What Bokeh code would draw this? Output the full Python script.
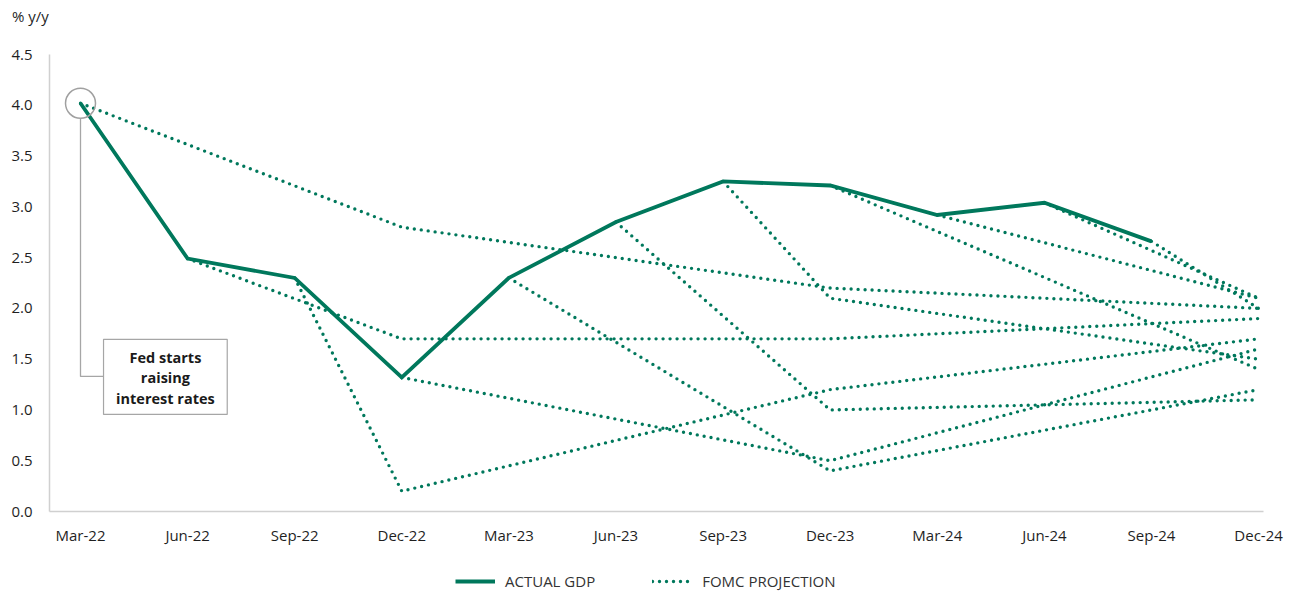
from bokeh.plotting import figure
from bokeh.layouts import column
from bokeh.models import Range1d, FixedTicker, PrintfTickFormatter, Legend, LegendItem, Div
from bokeh.core.properties import value
from bokeh.embed import file_html
from bokeh.resources import INLINE

# ---------------- data ----------------
quarters = ["Mar-22", "Jun-22", "Sep-22", "Dec-22", "Mar-23", "Jun-23",
            "Sep-23", "Dec-23", "Mar-24", "Jun-24", "Sep-24", "Dec-24"]
actual_gdp = [4.02, 2.49, 2.30, 1.32, 2.30, 2.85, 3.25, 3.21, 2.92, 3.04, 2.66]

# FOMC projections published each quarter (start = actual GDP that quarter)
proj_quarters = ["Mar-22", "Jun-22", "Sep-22", "Dec-22", "Mar-23", "Jun-23",
                 "Sep-23", "Dec-23", "Mar-24", "Jun-24", "Sep-24"]
proj_dec22 = [2.8, 1.7, 0.2, None, None, None, None, None, None, None, None]
proj_dec23 = [2.2, 1.7, 1.2, 0.5, 0.4, 1.0, 2.1, None, None, None, None]
proj_dec24 = [2.0, 1.9, 1.7, 1.6, 1.2, 1.1, 1.5, 1.4, 2.1, 2.1, 2.0]
year_ends = ["Dec-22", "Dec-23", "Dec-24"]

y_ticks = [0.0, 0.5, 1.0, 1.5, 2.0, 2.5, 3.0, 3.5, 4.0, 4.5]
legend_labels = ["ACTUAL GDP", "FOMC PROJECTION"]
unit_label = "% y/y"

GREEN = "#00785C"
FONT = "Open Sans"
DOT = "0 7"

# ---------------- build series ----------------
x_actual = list(range(len(actual_gdp)))
xs, ys = [], []
for i, q in enumerate(proj_quarters):
    sx = quarters.index(q)
    px, py = [sx], [actual_gdp[sx]]
    for ye, vals in zip(year_ends, [proj_dec22, proj_dec23, proj_dec24]):
        if vals[i] is not None:
            px.append(quarters.index(ye))
            py.append(vals[i])
    xs.append(px)
    ys.append(py)

# ---------------- header ----------------
hdr = Div(text=unit_label, width=1297, height=34, margin=0,
          styles={"font-family": "Open Sans", "font-size": "15px",
                  "color": "#1f1f1f", "padding-left": "12px",
                  "padding-top": "6px", "line-height": "20px"})

# ---------------- main figure ----------------
p = figure(width=1297, height=522, output_backend="svg", toolbar_location=None,
           title=None,
           x_range=Range1d(-0.2895, 11.046), y_range=Range1d(0, 4.5),
           min_border_left=49, min_border_right=34, min_border_top=20,
           min_border_bottom=45)
p.outline_line_color = None
p.grid.grid_line_color = None

p.multi_line(xs, ys, line_color=GREEN, line_width=3.4, line_dash=DOT,
             line_cap="round")
p.line(x_actual, actual_gdp, line_color=GREEN, line_width=3.8, line_join="miter")

# annotation
p.scatter([0], [actual_gdp[0]], size=30, fill_color=None, line_color="#A0A0A0",
          line_width=1.5)
p.line([0, 0, 0.215], [actual_gdp[0] - 0.15, 1.33, 1.33], line_color="#A6A6A6",
       line_width=1.3)
p.quad(left=[0.215], right=[1.37], bottom=[0.956], top=[1.695], fill_color="white",
       line_color="#A6A6A6", line_width=1.2)
p.text([0.793, 0.793, 0.793], [1.515, 1.317, 1.11],
       text=["Fed starts", "raising", "interest rates"],
       text_font=value(FONT), text_font_size="14.5px", text_font_style="bold",
       text_color="#1a1a1a", text_align="center", text_baseline="middle")

# axes
p.xaxis.ticker = FixedTicker(ticks=list(range(len(quarters))))
p.xaxis.major_label_overrides = {i: q for i, q in enumerate(quarters)}
p.yaxis.ticker = FixedTicker(ticks=y_ticks)
p.yaxis.formatter = PrintfTickFormatter(format="%.1f")
for ax in (p.xaxis, p.yaxis):
    ax.axis_line_color = "#D0D0D0"
    ax.axis_line_width = 1.5
    ax.major_tick_line_color = None
    ax.minor_tick_line_color = None
    ax.major_tick_out = 0
    ax.major_tick_in = 0
    ax.major_label_text_font = FONT
    ax.major_label_text_font_size = "15px"
    ax.major_label_text_color = "#1f1f1f"
p.yaxis.major_label_standoff = 17
p.xaxis.major_label_standoff = 13

# ---------------- legend strip ----------------
lg = figure(width=1297, height=36, output_backend="svg", toolbar_location=None,
            title=None,
            x_range=Range1d(-100, -99), y_range=Range1d(-100, -99),
            min_border_left=49, min_border_right=34, min_border_top=0,
            min_border_bottom=0)
lg.axis.visible = False
lg.grid.grid_line_color = None
lg.outline_line_color = None
# swatch renderers (drawn out of view; only their legend swatches show)
r_act = lg.line(x_actual, actual_gdp, line_color=GREEN, line_width=3.8)
r_proj = lg.multi_line(xs, ys, line_color=GREEN, line_width=3.4, line_dash=DOT,
                       line_cap="round")
legend = Legend(items=[LegendItem(label=legend_labels[0], renderers=[r_act]),
                       LegendItem(label=legend_labels[1], renderers=[r_proj])],
                orientation="horizontal", location=(406, 1))
legend.label_text_font = FONT
legend.label_text_font_size = "15px"
legend.label_text_color = "#333333"
legend.glyph_width = 40
legend.glyph_height = 16
legend.label_height = 16
legend.label_standoff = 10
legend.spacing = 57
legend.padding = 0
legend.margin = 0
legend.border_line_color = None
legend.background_fill_alpha = 0
lg.add_layout(legend)

open("out.html", "w").write(file_html(column(hdr, p, lg, spacing=0), INLINE))
